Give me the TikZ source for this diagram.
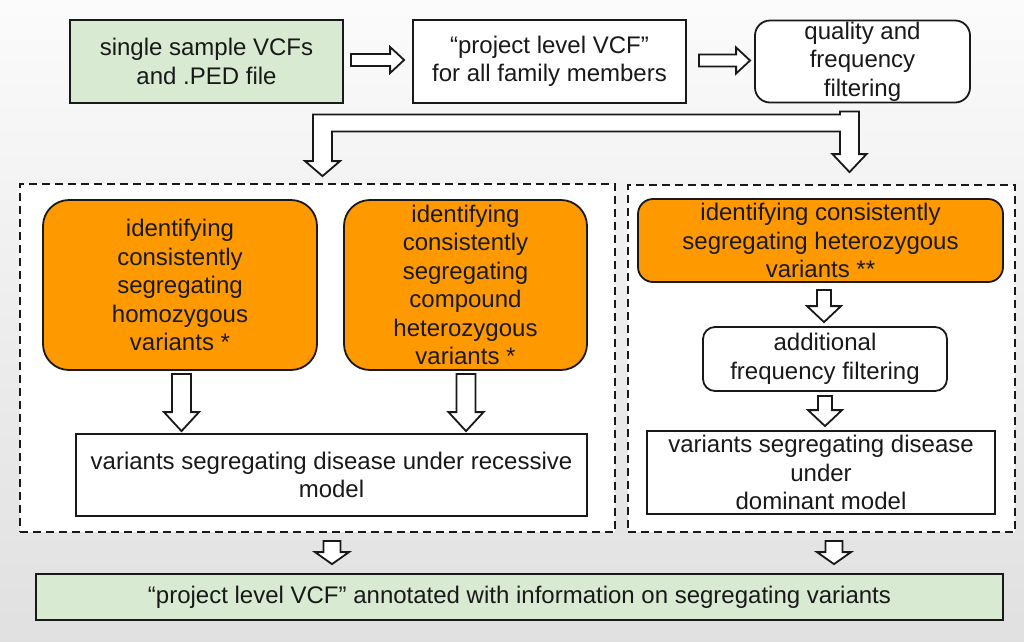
\documentclass[tikz,border=0pt]{standalone}
\usepackage{fontspec}
\setmainfont{Liberation Sans}
\usetikzlibrary{calc}
\definecolor{boxgreen}{RGB}{217,234,211}
\definecolor{boxorange}{RGB}{255,153,0}
\definecolor{ink}{RGB}{25,25,25}
\pgfdeclareverticalshading{bgshade}{100bp}{color(0bp)=(black!17); color(45bp)=(black!8); color(82bp)=(white); color(100bp)=(white)}
% vertical block arrow: #1 top centre, #2 tip (y used), #3 shaft half width, #4 head half width, #5 head length
\newcommand{\vblockarrow}[5]{%
  \draw[blockarr] let \p1=#1, \p2=#2 in
    (\x1-#3pt,\y1) -- (\x1+#3pt,\y1) -- (\x1+#3pt,\y2+#5pt) -- (\x1+#4pt,\y2+#5pt)
    -- (\x1,\y2) -- (\x1-#4pt,\y2+#5pt) -- (\x1-#3pt,\y2+#5pt) -- cycle;}
% horizontal block arrow: #1 start centre, #2 tip (x used), #3 shaft half height, #4 head half height, #5 head length
\newcommand{\hblockarrow}[5]{%
  \draw[blockarr] let \p1=#1, \p2=#2 in
    (\x1,\y1+#3pt) -- (\x2-#5pt,\y1+#3pt) -- (\x2-#5pt,\y1+#4pt) -- (\x2,\y1)
    -- (\x2-#5pt,\y1-#4pt) -- (\x2-#5pt,\y1-#3pt) -- (\x1,\y1-#3pt) -- cycle;}
\begin{document}
\begin{tikzpicture}[x=1pt,y=-1pt,
  every node/.style={font=\fontsize{24}{28.5}\selectfont, text=ink, align=center, inner sep=0pt},
  box/.style={draw=ink, line width=1.8pt, fill=white},
  roundbox/.style={box, rounded corners=#1},
  dashbox/.style={draw=ink, line width=1.8pt, dash pattern=on 8pt off 5pt, fill=white},
  blockarr/.style={draw=ink, fill=white, line width=1.8pt, line join=miter, miter limit=10}]
% background
\useasboundingbox (0,0) rectangle (1024,641);
\shade[shading=bgshade] (0,0) rectangle (1024,641);

% containers
\node[dashbox, minimum width=595pt, minimum height=348pt] (recC) at (317.5,358) {};
\node[dashbox, minimum width=387pt, minimum height=347pt] (domC) at (821.5,358.5) {};

% top row
\node[box, fill=boxgreen, minimum width=273pt, minimum height=83pt] (src) at (206.5,61.5)
  {single sample VCFs\\and .PED file};
\node[box, minimum width=273pt, minimum height=83pt] (proj) at (549.5,61.5)
  {“project level VCF”\\for all family members};
\node[roundbox=15pt, minimum width=215pt, minimum height=82pt] (qual) at (862.5,61.5)
  {quality and\\frequency\\filtering};

% recessive branch
\node[roundbox=26pt, fill=boxorange, minimum width=274pt, minimum height=170pt] (homo) at (180,285)
  {identifying\\consistently\\segregating\\homozygous\\variants *};
\node[roundbox=26pt, fill=boxorange, minimum width=243pt, minimum height=170pt] (comp) at (465.5,285)
  {identifying\\consistently\\segregating\\compound\\heterozygous\\variants *};
\node[box, minimum width=511pt, minimum height=82pt] (rec) at (331.5,475)
  {variants segregating disease under recessive\\model};

% dominant branch
\node[roundbox=15pt, fill=boxorange, minimum width=365pt, minimum height=83pt] (het) at (820.5,240.5)
  {identifying consistently\\segregating heterozygous\\variants **};
\node[roundbox=12pt, minimum width=244pt, minimum height=64pt] (addf) at (825,359)
  {additional\\frequency filtering};
\node[box, minimum width=348pt, minimum height=83pt] (dom) at (821,472.5)
  {variants segregating disease\\under\\dominant model};

% output
\node[box, fill=boxgreen, minimum width=967pt, minimum height=46pt] (out) at (519.5,597)
  {“project level VCF” annotated with information on segregating variants};

% arrows, top row
\hblockarrow{($(src.east)+(7,-1.5)$)}{($(proj.west)+(-8,0)$)}{6}{13}{14}
\hblockarrow{($(proj.east)+(12,-1)$)}{($(qual.west)+(-4,0)$)}{6}{13}{14}

% split arrow from filtering to both branches
\draw[blockarr] let \p1=($(qual.south)+(-13,8)$), \p2=($(domC.north)+(0,-12)$), \p3=($(recC.north)+(5,-7)$) in
  (\x1+9.5pt,\y1) -- (\x1+9.5pt,\y2+18pt) -- (\x1+17pt,\y2+18pt) -- (\x1,\y2)
  -- (\x1-17pt,\y2+18pt) -- (\x1-9.5pt,\y2+18pt) -- (\x1-9.5pt,\y1-20pt)
  -- (\x3+9.5pt,\y1-20pt) -- (\x3+9.5pt,\y3+15pt) -- (\x3+17.5pt,\y3+15pt) -- (\x3,\y3)
  -- (\x3-17.5pt,\y3+15pt) -- (\x3-9.5pt,\y3+15pt) -- (\x3-9.5pt,\y1-3pt)
  -- (\x1-9.5pt,\y1-3pt) -- (\x1-9.5pt,\y1) -- cycle;

% arrows inside containers
\vblockarrow{($(homo.south)+(1.5,3)$)}{($(rec.north)+(0,-2)$)}{9.5}{17.5}{19}
\vblockarrow{($(comp.south)+(0.5,3)$)}{($(rec.north)+(0,-2)$)}{9.5}{17.5}{19}
\vblockarrow{($(het.south)+(3.5,7)$)}{($(addf.north)+(0,-4)$)}{7}{17}{16}
\vblockarrow{($(addf.south)+(0,4)$)}{($(dom.north)+(0,-4)$)}{7}{17}{16}

% arrows to output
\vblockarrow{($(recC.south)+(14.5,8)$)}{($(out.north)+(0,-9)$)}{8.5}{17}{12}
\vblockarrow{($(domC.south)+(12.5,8)$)}{($(out.north)+(0,-9)$)}{8.5}{17}{12}
\end{tikzpicture}
\end{document}
